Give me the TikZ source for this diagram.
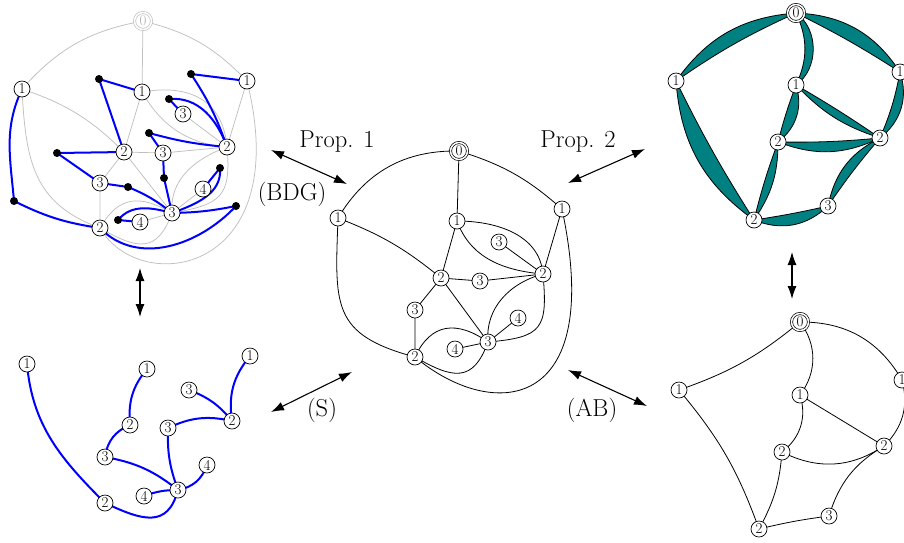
\documentclass[tikz,border=0pt]{standalone}
\usepackage{fontspec}
\usetikzlibrary{arrows.meta,backgrounds}
\newcommand\lensdraw[4]{\draw[lens] (#1.center) to[bend left=#3] (#2.center) to[bend right=#4] (#1.center) -- cycle;}
\begin{document}
\begin{tikzpicture}[x=1pt,y=1pt,
 v/.style={circle,draw,fill=white,inner sep=0pt,minimum size=16pt,line width=0.7pt,font=\fontsize{15}{15}\selectfont},
 vroot/.style={v,double,double distance=1.5pt,minimum size=17pt},
 groot/.style={vroot,draw=black!25,text=black!30},
 dot/.style={circle,fill=black,inner sep=0pt,minimum size=8pt},
 edg/.style={line width=0.8pt},
 gedg/.style={line width=0.75pt,draw=black!25},
 bedg/.style={line width=2pt,draw=blue},
 lens/.style={draw=black,fill=teal,line width=0.8pt,line join=round},
 arr/.style={{Latex[length=13pt,width=9pt]}-{Latex[length=13pt,width=9pt]},line width=1.1pt},
 lbl/.style={font=\fontsize{24.5}{29}\selectfont,inner sep=0pt}]
\useasboundingbox (0,0) rectangle (904,-542);

% ---------- centre panel ----------
\node[vroot] (c0) at (459,-151) {0};
\node[v] (cL1) at (338,-218) {1};
\node[v] (cR1) at (562,-209) {1};
\node[v] (cI1) at (457,-221) {1};
\node[v] (cU3) at (499,-242) {3};
\node[v] (cR2) at (543,-274) {2};
\node[v] (cM2) at (441,-278) {2};
\node[v] (cM3) at (480,-281) {3};
\node[v] (cL3) at (415,-310) {3};
\node[v] (cR4) at (518,-318) {4};
\node[v] (cB3) at (488,-342) {3};
\node[v] (cL4) at (455,-349) {4};
\node[v] (cB2) at (415,-357) {2};

% ---------- top-left panel ----------
\node[groot] (g0) at (143,-21) {0};
\node[v] (gL1) at (22,-89) {1};
\node[v] (gI1) at (142,-92) {1};
\node[v] (gR1) at (247,-81) {1};
\node[v] (gU3) at (183,-114) {3};
\node[v] (gR2) at (227,-147) {2};
\node[v] (gM2) at (124,-152) {2};
\node[v] (gM3) at (163,-153) {3};
\node[v] (gL3) at (100,-183) {3};
\node[v] (gR4) at (203,-189) {4};
\node[v] (gB3) at (172,-213) {3};
\node[v] (gL4) at (140,-222) {4};
\node[v] (gB2) at (100,-228) {2};
\node[dot] (dA) at (14,-201) {};
\node[dot] (dB) at (99,-79) {};
\node[dot] (dC) at (191,-74) {};
\node[dot] (dD) at (169,-99) {};
\node[dot] (dE) at (149,-133) {};
\node[dot] (dF) at (57,-153) {};
\node[dot] (dG) at (128,-187) {};
\node[dot] (dH) at (164,-178) {};
\node[dot] (dI) at (220,-168) {};
\node[dot] (dJ) at (236,-206) {};
\node[dot] (dK) at (118,-220) {};

% ---------- bottom-left panel ----------
\node[v] (tL1) at (27,-364) {1};
\node[v] (tM1) at (147,-369) {1};
\node[v] (tR1) at (250,-356) {1};
\node[v] (tU3) at (189,-390) {3};
\node[v] (tR2) at (232,-421) {2};
\node[v] (tM2) at (130,-425) {2};
\node[v] (tM3) at (168,-428) {3};
\node[v] (tL3) at (105,-457) {3};
\node[v] (tR4) at (207,-465) {4};
\node[v] (tB3) at (178,-490) {3};
\node[v] (tL4) at (144,-496) {4};
\node[v] (tB2) at (105,-503) {2};

% ---------- top-right panel ----------
\node[vroot] (q0) at (796,-13) {0};
\node[v] (qL1) at (676,-81) {1};
\node[v] (qI1) at (796,-85) {1};
\node[v] (qR1) at (900,-72) {1};
\node[v] (qI2) at (778,-142) {2};
\node[v] (qR2) at (880,-138) {2};
\node[v] (q3) at (828,-206) {3};
\node[v] (qB2) at (754,-220) {2};

% ---------- bottom-right panel ----------
\node[vroot] (p0) at (800,-322) {0};
\node[v] (pL1) at (679,-390) {1};
\node[v] (pI1) at (800,-395) {1};
\node[v] (pR1) at (902,-380) {1};
\node[v] (pI2) at (782,-452) {2};
\node[v] (pR2) at (884,-446) {2};
\node[v] (p3) at (829,-516) {3};
\node[v] (pB2) at (759,-529) {2};

\begin{scope}[on background layer]
% centre edges
\draw[edg] (c0.center) to[bend right=30] (cL1.center);
\draw[edg] (c0.center) -- (cI1.center);
\draw[edg] (c0.center) to[bend left=12] (cR1.center);
\draw[edg] (cL1.center) to[bend left=9] (cM2.center);
\draw[edg] (cL1.center) to[out=-92,in=165,looseness=1.4] (cB2.center);
\draw[edg] (cR1.center) -- (cR2.center);
\draw[edg] (cR1.center) to[out=-78,in=-40,out distance=210pt,in distance=100pt] (cB2.center);
\draw[edg] (cI1.center) to[out=0,in=95] (cR2.center);
\draw[edg] (cI1.center) to[out=-70,in=175] (cR2.center);
\draw[edg] (cU3.center) -- (cR2.center);
\draw[edg] (cM2.center) -- (cM3.center) -- (cR2.center);
\draw[edg] (cI1.center) -- (cM2.center);
\draw[edg] (cM2.center) -- (cL3.center) -- (cB2.center);
\draw[edg] (cM2.center) -- (cB3.center);
\draw[edg] (cR2.center) to[out=195,in=95] (cB3.center);
\draw[edg] (cR2.center) to[out=-85,in=5,distance=55pt] (cB3.center);
\draw[edg] (cB3.center) -- (cR4.center);
\draw[edg] (cB3.center) -- (cL4.center);
\draw[edg] (cB2.center) to[out=65,in=145,looseness=1.3] (cB3.center);
\draw[edg] (cB2.center) to[out=-30,in=-110,looseness=1.5] (cB3.center);

% top-left grey edges
\draw[gedg] (g0.center) to[bend right=19] (gL1.center);
\draw[gedg] (g0.center) -- (gI1.center);
\draw[gedg] (g0.center) to[bend left=16] (gR1.center);
\draw[gedg] (gL1.center) to[bend left=13] (gM2.center);
\draw[gedg] (gL1.center) to[out=-87,in=160,looseness=1.15] (gB2.center);
\draw[gedg] (gR1.center) -- (gR2.center);
\draw[gedg] (gR1.center) to[out=-76,in=-60,out distance=200pt,in distance=80pt] (gB2.center);
\draw[gedg] (gI1.center) to[out=10,in=95,looseness=1.2] (gR2.center);
\draw[gedg] (gI1.center) to[out=-60,in=175] (gR2.center);
\draw[gedg] (gU3.center) -- (gR2.center);
\draw[gedg] (gM2.center) -- (gM3.center) -- (gR2.center);
\draw[gedg] (gI1.center) -- (gM2.center);
\draw[gedg] (gM2.center) -- (gL3.center) -- (gB2.center);
\draw[gedg] (gM2.center) -- (gB3.center);
\draw[gedg] (gR2.center) to[out=200,in=95] (gB3.center);
\draw[gedg] (gR2.center) to[out=-85,in=10,distance=50pt] (gB3.center);
\draw[gedg] (gB3.center) -- (gR4.center);
\draw[gedg] (gB3.center) -- (gL4.center);
\draw[gedg] (gB2.center) to[out=60,in=150,looseness=1.3] (gB3.center);
\draw[gedg] (gB2.center) to[out=-30,in=-110,looseness=1.5] (gB3.center);

% top-left blue edges
\draw[bedg] (gL1.center) to[out=-115,in=95] (dA.center);
\draw[bedg] (dA.center) to[bend right=9] (gB2.center);
\draw[bedg] (dB.center) -- (gI1.center);
\draw[bedg] (dB.center) -- (gM2.center);
\draw[bedg] (dC.center) -- (gR1.center);
\draw[bedg] (dC.center) to[bend left=7] (gR2.center);
\draw[bedg] (dD.center) -- (gU3.center);
\draw[bedg] (dD.center) to[out=5,in=110] (gR2.center);
\draw[bedg] (dE.center) -- (gM3.center);
\draw[bedg] (dE.center) to[bend right=5] (gR2.center);
\draw[bedg] (dF.center) -- (gM2.center);
\draw[bedg] (dF.center) -- (gL3.center);
\draw[bedg] (gL3.center) -- (dG.center);
\draw[bedg] (dG.center) to[bend left=8] (gB3.center);
\draw[bedg] (gM3.center) -- (dH.center) -- (gB3.center);
\draw[bedg] (dI.center) -- (gR4.center);
\draw[bedg] (dI.center) to[out=-85,in=20] (gB3.center);
\draw[bedg] (dJ.center) to[bend left=5] (gB3.center);
\draw[bedg] (dJ.center) to[out=-133,in=-46] (gB2.center);
\draw[bedg] (dK.center) -- (gL4.center);
\draw[bedg] (dK.center) to[out=50,in=165] (gB3.center);

% bottom-left tree
\draw[bedg] (tL1.center) to[out=-85,in=135] (tB2.center);
\draw[bedg] (tM1.center) to[out=-130,in=95] (tM2.center);
\draw[bedg] (tM2.center) to[bend right=30] (tL3.center);
\draw[bedg] (tL3.center) to[bend left=14] (tB3.center);
\draw[bedg] (tM3.center) to[bend right=11] (tB3.center);
\draw[bedg] (tM3.center) to[bend left=19] (tR2.center);
\draw[bedg] (tU3.center) to[bend left=15] (tR2.center);
\draw[bedg] (tR1.center) to[bend right=24] (tR2.center);
\draw[bedg] (tR4.center) to[bend left=30] (tB3.center);
\draw[bedg] (tL4.center) to[bend left=10] (tB3.center);
\draw[bedg] (tB2.center) to[out=-25,in=-105,looseness=1.4] (tB3.center);

% top-right lenses
\lensdraw{q0}{qL1}{-25}{-5}
\lensdraw{qL1}{qB2}{-25}{-3}
\lensdraw{q0}{qI1}{55}{25}
\lensdraw{q0}{qR1}{27}{3}
\lensdraw{qR1}{qR2}{35}{6}
\lensdraw{qI1}{qR2}{-14}{2}
\lensdraw{qI1}{qI2}{35}{-3}
\lensdraw{qI2}{qR2}{-23}{-3}
\lensdraw{qI2}{qB2}{17}{-3}
\lensdraw{qR2}{q3}{-26}{-3}
\lensdraw{qB2}{q3}{-33}{-2}

% bottom-right edges
\draw[edg] (p0.center) to[bend left=10] (pL1.center);
\draw[edg] (p0.center) to[bend left=37] (pI1.center);
\draw[edg] (p0.center) to[bend left=30] (pR1.center);
\draw[edg] (pL1.center) to[bend left=10] (pB2.center);
\draw[edg] (pI1.center) to[bend left=35] (pI2.center);
\draw[edg] (pI1.center) -- (pR2.center);
\draw[edg] (pR1.center) to[bend left=30] (pR2.center);
\draw[edg] (pI2.center) to[bend right=30] (pR2.center);
\draw[edg] (pI2.center) to[bend left=12] (pB2.center);
\draw[edg] (pR2.center) to[bend right=21] (p3.center);
\draw[edg] (pB2.center) to[bend left=3] (p3.center);
\end{scope}

% ---------- arrows ----------
\coordinate (a1s) at (271,-150); \coordinate (a1e) at (347,-184);
\coordinate (a2s) at (568,-183); \coordinate (a2e) at (645,-149);
\coordinate (a3s) at (140,-268); \coordinate (a3e) at (140,-317);
\coordinate (a4s) at (271,-412); \coordinate (a4e) at (352,-372);
\coordinate (a5s) at (568,-370); \coordinate (a5e) at (647,-406);
\coordinate (a6s) at (792,-252); \coordinate (a6e) at (792,-299);
\draw[arr] (a1s) -- (a1e);
\draw[arr] (a2s) -- (a2e);
\draw[arr] (a3s) -- (a3e);
\draw[arr] (a4s) -- (a4e);
\draw[arr] (a5s) -- (a5e);
\draw[arr] (a6s) -- (a6e);

% ---------- labels ----------
\node[lbl] (l1) at (337,-142) {Prop. 1};
\node[lbl] (l2) at (292,-194) {(BDG)};
\node[lbl] (l3) at (578,-142) {Prop. 2};
\node[lbl] (l4) at (322,-410) {(S)};
\node[lbl] (l5) at (592,-410) {(AB)};
\end{tikzpicture}
\end{document}
